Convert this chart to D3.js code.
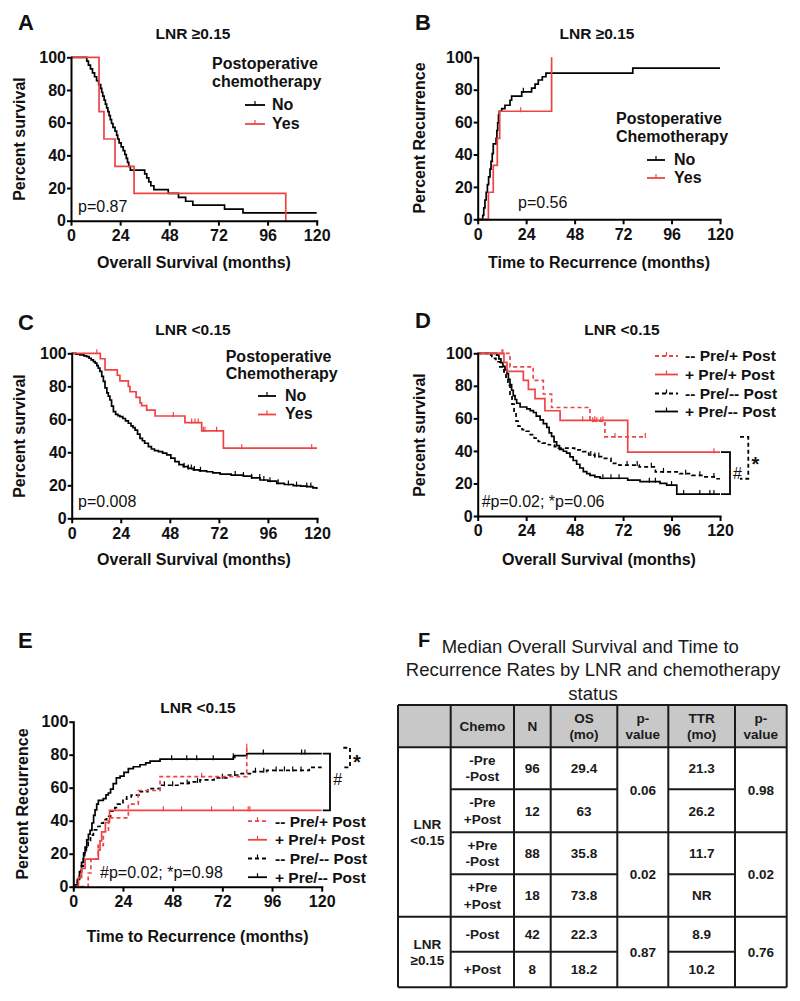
<!DOCTYPE html>
<html><head><meta charset="utf-8">
<script src="https://cdn.jsdelivr.net/npm/d3@7"></script>
<style>
body{margin:0;background:#fff;}
svg text{font-family:"Liberation Sans",Arial,Helvetica,sans-serif;}
</style></head><body>
<svg id="fig" width="800" height="1001"></svg>
<script>
// ---------------- DATA ----------------
const xTicks = [0, 24, 48, 72, 96, 120];
const yTicks = [0, 20, 40, 60, 80, 100];

// Panel A: LNR >=0.15, overall survival [month, %]
const aNo = [[0,100],[7.7,97.6],[8.5,95.2],[9.5,92.9],[10.5,90.5],[11.5,88.1],[12.5,85.7],[13.5,83.3],[14.5,81.0],[15,78.6],[15.5,76.2],[16.2,73.8],[16.8,71.4],[17.4,69.0],[18,66.7],[18.6,64.3],[19.2,61.9],[19.8,59.5],[20.5,57.1],[21.5,54.8],[22.3,52.4],[22.8,50.0],[23.5,47.6],[24.5,45.2],[25.5,42.9],[26.3,40.5],[27,38.1],[27.6,35.7],[28.2,33.3],[29,31.0],[36,28.6],[37,26.2],[38,23.8],[39,21.4],[40.5,19.0],[47.5,16.7],[52.5,14.3],[56,11.9],[59.5,9.5],[75,7.1],[84,4.8],[120,4.8]];
const aYes = [[0,100],[13.7,66.7],[16.1,50],[21.5,33.3],[30.8,16.7],[104.9,0]];

// Panel B: LNR >=0.15, recurrence
const bNo = [[0,0],[2.5,2.4],[3,7.1],[3.6,11.9],[4.2,16.7],[4.8,21.4],[5.4,26.2],[6.1,31],[6.6,35.7],[7.2,40.5],[7.7,46.6],[9.1,50],[9.5,54.8],[9.9,59.5],[10.3,64.3],[10.7,66.7],[11.9,68.3],[13.5,70.4],[16,73.5],[16.8,76],[21.8,78.7],[26.7,81],[28.4,83.5],[30,86],[32,88],[33.8,90.2],[76.8,93.3],[120,93.3]];
const bNoCens = [22.6];
const bYes = [[0,0],[5.3,16.7],[7.7,33.3],[9.7,50],[10.9,66.7],[36.6,100]];
const bYesCens = [21.3];

// Panel C: LNR <0.15, overall survival
const cNo = [[0,100],[2,99.5],[4,99],[6,98.5],[7.3,98],[8.5,97],[9.5,96],[10.6,95],[11.5,94],[12.3,92.5],[13,91],[13.8,89],[14.7,86],[15.5,83],[16.3,79],[17.2,76],[17.9,74],[18.7,71.7],[19.5,68],[20.4,64.6],[21.5,63],[22.6,62.2],[23.6,61.6],[25,60.5],[26.3,59],[27.7,57.6],[29,56],[30,55],[31,53.5],[32.2,51],[33.4,48.5],[34.6,47],[35.7,45.5],[37.5,43.4],[39,42],[40.5,41],[42.4,40.4],[44.5,39.5],[46.5,38.4],[48.5,36.5],[50.5,34.3],[52.5,32.5],[54.6,31.3],[57,30.2],[59.5,29.3],[62.5,28.8],[66,28.2],[69,27.5],[72.6,26.8],[78,26.2],[84,25.6],[88,24.5],[92.1,23.2],[96,22.5],[100.3,21.2],[104,20.5],[108.4,19.8],[112,19.5],[115,19.2],[118,18.5],[119.9,17.8]];
const cNoCens = [55,57,58.5,60,63,80,84,88,92,94,97,101,106,110,115,117];
const cYes = [[0,100],[14,96.7],[16.3,90],[22.3,86.7],[23.6,83.3],[27.7,80],[28.5,76.7],[31.5,73.3],[33.4,70],[34.2,68.3],[36.7,65.6],[40.8,62],[55.4,58],[63.6,53],[74.2,42.5],[120,42.5]];
const cYesCens = [12.3,49.7,58.7,60.3,61.9,64.4,65.2,70.9,83.2,117.4];

// Panel D: LNR <0.15, overall survival by pre/post chemo
const dPreNoPostYes = [[0,100],[16,91.7],[27.5,83.3],[32.5,75],[36.6,66.7],[55.6,58.3],[63,48.6],[83,48.6]];
const dPreNoPostYesCens = [12.5,57,59,61,68,83];
const dPreYesPostYes = [[0,100],[13,94.4],[14.5,88.9],[22.6,83.3],[25.1,77.8],[28.4,72.2],[33.3,64.7],[40.8,58.8],[74.3,39.2],[120,39.2]];
const dPreYesPostYesCens = [12,52,58,62,117];
const dPreNoPostNo = [[0,100],[5,98.9],[7,96.9],[9,94.8],[11,91.7],[13,88.5],[14,85.4],[15,80.2],[16,74],[17,68.8],[18,63.5],[19,58.3],[20,55.2],[22,53.1],[24,52.1],[26,50],[28,47.9],[30,45.8],[32,44.8],[35,43.8],[38,42.7],[40,41.7],[48,40.6],[52,39.6],[55,37.5],[58,36.5],[62,35.4],[66,32.3],[70,31.3],[80,30.2],[88,27.1],[100,26],[106,25],[112,24],[118,22.9],[120,22.9]];
const dPreNoPostNoCens = [56,58,60,74,79,86,92,103,110,117];
const dPreYesPostNo = [[0,100],[9.4,98.9],[10.5,96.6],[11.5,94.3],[12.5,92],[13.5,89.8],[14.5,87.5],[15.2,84],[16,80.7],[16.8,77.3],[17.6,74],[18.5,71.6],[19.3,69.3],[21,67],[24.3,65.9],[26,64.8],[27.6,63.6],[29,61.4],[30.9,59.1],[32.5,56.8],[34.2,54.5],[35.4,51.1],[36.6,48.9],[37.8,45.5],[39.1,43.2],[40.5,40.9],[42.4,39.8],[44,38.6],[45.7,36.4],[47.3,34.1],[49,31.8],[50.6,29.5],[52.3,27.3],[54,26.1],[55.6,25],[58,24],[60.6,23.2],[74.3,22.1],[80.4,21.1],[90.3,20.1],[93.6,19],[98.6,13.5],[120,13.5]];
const dPreYesPostNoCens = [62,66,70,85,88,96,102,110,115,117];

// Panel E: LNR <0.15, recurrence by pre/post chemo
const ePreNoPostYes = [[0,0],[7.2,8.3],[8.5,16.7],[12,25],[14.5,33.3],[17,41.7],[26.6,50],[31.4,58.3],[41.9,66.7],[83.8,84.2]];
const ePreNoPostYesCens = [62,83.8];
const ePreYesPostYes = [[0,0],[2.5,5.6],[4,11.1],[5.7,16.7],[12.1,22.2],[12.9,27.8],[13.7,33.3],[15.5,38.9],[17.5,46.3],[120,46.3]];
const ePreYesPostYesCens = [43.5,52.3,66.8,77.3,84.5,85.3];
const ePreNoPostNo = [[0,0],[1,1],[2,4.2],[3,8.3],[3.8,12.5],[4.8,18.8],[5.5,21.9],[6.3,25],[7.2,28.1],[8.3,31.3],[9.7,34.4],[11.3,36.5],[12.9,38.5],[14.5,40.6],[16.1,42.7],[18,45.8],[20.1,47.9],[21.3,50],[22.6,51],[24,53.1],[25.8,54.5],[28,55.5],[32.2,57.6],[36,59.4],[41.9,61.5],[51.5,62.6],[56,63.5],[61.2,64.7],[68,66],[74.1,67.7],[80,68.5],[87,69.7],[93.4,70.5],[114,72.3],[120,72.3]];
const ePreNoPostNoCens = [44,48,55,60,72,78,88,92,98,102,106,110];
const ePreYesPostNo = [[0,0],[1,1.1],[2,4.5],[3,9.1],[4,14.8],[5,20.5],[5.7,24],[6.5,28.4],[7.3,31.8],[8.1,34.1],[9,38.6],[9.8,43.2],[10.5,46.6],[11.3,50],[12.1,52.3],[14.5,53.4],[15.8,55.7],[16.9,56.8],[18,59.1],[19.3,62.5],[20.8,65.9],[22.6,67],[24.5,69.3],[26.6,71.6],[29,72.7],[32.2,73.9],[35,75],[37.1,76.1],[41.9,77.3],[77.3,78.4],[78,79.5],[83.8,80.7],[120,80.7]];
const ePreYesPostNoCens = [47.5,54.8,59.6,67.6,77.3,91.8,110.3,111.9];

// Panel F: table
const tblHeader = ["", "Chemo", "N", "OS\n(mo)", "p-\nvalue", "TTR\n(mo)", "p-\nvalue"];
const tblGroups = ["LNR\n<0.15", "LNR\n\u22650.15"];
const tblChemo = ["-Pre\n-Post", "-Pre\n+Post", "+Pre\n-Post", "+Pre\n+Post", "-Post", "+Post"];
const tblN = ["96", "12", "88", "18", "42", "8"];
const tblOS = ["29.4", "63", "35.8", "73.8", "22.3", "18.2"];
const tblTTR = ["21.3", "26.2", "11.7", "NR", "8.9", "10.2"];
const tblPOS = ["0.06", "0.02", "0.87"];
const tblPTTR = ["0.98", "0.02", "0.76"];

// ---------------- DRAWING ----------------
const svg = d3.select('#fig');
const RED = '#f04444';
const INK = '#111';

function txt(g, x, y, s, o = {}) {
  return g.append('text').attr('x', x).attr('y', y).text(s)
    .attr('font-size', o.size || 16).attr('font-weight', o.weight || 'bold')
    .attr('text-anchor', o.anchor || 'start').attr('fill', o.fill || INK);
}
function valueAt(data, t) {
  let v = data[0][1];
  for (const d of data) { if (d[0] <= t) v = d[1]; else break; }
  return v;
}
function legLine(g, x1, x2, y, color, dash) {
  g.append('line').attr('x1', x1).attr('x2', x2).attr('y1', y).attr('y2', y)
    .attr('stroke', color).attr('stroke-width', 1.8).attr('stroke-dasharray', dash ? '4,3' : null);
  const m = (x1 + x2) / 2;
  g.append('line').attr('x1', m).attr('x2', m).attr('y1', y).attr('y2', y - 4)
    .attr('stroke', color).attr('stroke-width', 1.2);
}

function panel(p) {
  const g = svg.append('g');
  const xs = d3.scaleLinear().domain([0, 120]).range([p.x0, p.x1]);
  const ys = d3.scaleLinear().domain([0, 100]).range([p.yB, p.yT]);
  const line = d3.line().x(d => xs(d[0])).y(d => ys(d[1])).curve(d3.curveStepAfter);
  p.series.forEach(s => {
    g.append('path').datum(s.data).attr('d', line).attr('fill', 'none')
      .attr('stroke', s.color).attr('stroke-width', 1.7)
      .attr('stroke-dasharray', s.dash ? '4,3' : null);
    (s.cens || []).forEach(t => {
      const v = valueAt(s.data, t);
      g.append('line').attr('x1', xs(t)).attr('x2', xs(t)).attr('y1', ys(v) + 1).attr('y2', ys(v) - 4)
        .attr('stroke', s.color).attr('stroke-width', 1.2);
    });
  });
  const ya = g.append('g').attr('transform', `translate(${p.x0},0)`)
    .call(d3.axisLeft(ys).tickValues(yTicks).tickSize(4).tickSizeOuter(0).tickPadding(1));
  const xa = g.append('g').attr('transform', `translate(0,${p.yB})`)
    .call(d3.axisBottom(xs).tickValues(xTicks).tickSize(5).tickSizeOuter(0).tickPadding(4));
  [ya, xa].forEach(a => {
    a.select('.domain').attr('stroke', '#000').attr('stroke-width', 2).attr('stroke-linecap', 'square');
    a.selectAll('.tick line').attr('stroke', '#000').attr('stroke-width', 2);
    a.selectAll('text').attr('font-size', 16).attr('font-weight', 'bold')
      .attr('font-family', '"Liberation Sans",Arial,sans-serif').attr('fill', INK);
  });
  // letter, title, axis titles
  txt(g, p.letter[0], p.letter[1], p.id, { size: 22 });
  txt(g, p.title[0], p.title[1], p.title[2], { size: 15.5, anchor: 'middle' });
  txt(g, p.xlab[0], p.xlab[1], p.xlab[2], { size: 16, anchor: 'middle' });
  g.append('text').attr('transform', `translate(${p.ylab[0]},${p.ylab[1]}) rotate(-90)`)
    .attr('text-anchor', 'middle').attr('font-size', 16).attr('font-weight', 'bold')
    .attr('fill', INK).text(p.ylab[2]);
  txt(g, p.ptext[0], p.ptext[1], p.ptext[2], { size: 16, weight: 'normal' });
  return { g, xs, ys };
}

// A
const A = panel({
  id: 'A', x0: 71, x1: 316.7, yT: 57.3, yB: 220.7,
  letter: [18, 30], title: [193, 39, 'LNR \u22650.15'],
  xlab: [194, 268, 'Overall Survival (months)'], ylab: [25, 139, 'Percent survival'],
  ptext: [78, 212, 'p=0.87'],
  series: [{ data: aNo, color: '#000' }, { data: aYes, color: RED }]
});
txt(A.g, 212, 69, 'Postoperative'); txt(A.g, 212, 87, 'chemotherapy');
legLine(A.g, 245, 265, 105, '#000'); txt(A.g, 272, 110, 'No');
legLine(A.g, 245, 265, 124, RED); txt(A.g, 272, 129, 'Yes');

// B
const B = panel({
  id: 'B', x0: 477.7, x1: 720, yT: 57.3, yB: 219.3,
  letter: [415, 30], title: [597, 39, 'LNR \u22650.15'],
  xlab: [599, 268, 'Time to Recurrence (months)'], ylab: [425, 138, 'Percent Recurrence'],
  ptext: [518, 208, 'p=0.56'],
  series: [{ data: bNo, color: '#000', cens: bNoCens }, { data: bYes, color: RED, cens: bYesCens }]
});
txt(B.g, 616, 124, 'Postoperative'); txt(B.g, 616, 142, 'Chemotherapy');
legLine(B.g, 647, 665, 160, '#000'); txt(B.g, 674, 165, 'No');
legLine(B.g, 647, 665, 178, RED); txt(B.g, 674, 183, 'Yes');

// C
const C = panel({
  id: 'C', x0: 71.7, x1: 317, yT: 353.3, yB: 518.3,
  letter: [18, 330], title: [193, 335, 'LNR <0.15'],
  xlab: [194, 565, 'Overall Survival (months)'], ylab: [25, 436, 'Percent survival'],
  ptext: [78, 507, 'p=0.008'],
  series: [{ data: cNo, color: '#000', cens: cNoCens }, { data: cYes, color: RED, cens: cYesCens }]
});
txt(C.g, 225.7, 362, 'Postoperative'); txt(C.g, 225.7, 379, 'Chemotherapy');
legLine(C.g, 258, 276, 396, '#000'); txt(C.g, 285, 401, 'No');
legLine(C.g, 258, 276, 414.5, RED); txt(C.g, 285, 419, 'Yes');

// D
const D = panel({
  id: 'D', x0: 477.7, x1: 720, yT: 353.3, yB: 516,
  letter: [415, 328], title: [622, 335, 'LNR <0.15'],
  xlab: [599, 565, 'Overall Survival (months)'], ylab: [425, 435, 'Percent survival'],
  ptext: [481.7, 507, '#p=0.02; *p=0.06'],
  series: [
    { data: dPreNoPostNo, color: '#000', dash: true, cens: dPreNoPostNoCens },
    { data: dPreYesPostNo, color: '#000', cens: dPreYesPostNoCens },
    { data: dPreNoPostYes, color: RED, dash: true, cens: dPreNoPostYesCens },
    { data: dPreYesPostYes, color: RED, cens: dPreYesPostYesCens }
  ]
});
const legLabels = ['-- Pre/+ Post', '+ Pre/+ Post', '-- Pre/-- Post', '+ Pre/-- Post'];
const legStyles = [[RED, true], [RED, false], ['#000', true], ['#000', false]];
[361, 379.5, 398.5, 416.5].forEach((y, i) => {
  legLine(D.g, 655, 678, y - 5, legStyles[i][0], legStyles[i][1]);
  txt(D.g, 685, y, legLabels[i], { size: 15.5 });
});
function bracket(P, x1, x2, v1, v2, dash) {
  P.g.append('path')
    .attr('d', `M${x1},${P.ys(v1)}H${x2}V${P.ys(v2)}H${x1}`)
    .attr('fill', 'none').attr('stroke', '#000').attr('stroke-width', 1.8)
    .attr('stroke-dasharray', dash ? '4,3' : null);
}
const last = a => a[a.length - 1][1];
bracket(D, 721, 730, last(dPreYesPostYes), last(dPreYesPostNo), false);
bracket(D, 740, 748.3, last(dPreNoPostYes), last(dPreNoPostNo), true);
txt(D.g, 733, 478.5, '#', { size: 16, weight: 'normal' });
txt(D.g, 751.5, 471, '*', { size: 20 });

// E
const E = panel({
  id: 'E', x0: 73.3, x1: 321.7, yT: 721.7, yB: 886.7,
  letter: [18, 648], title: [198, 713, 'LNR <0.15'],
  xlab: [197.5, 941.5, 'Time to Recurrence (months)'], ylab: [28.3, 804, 'Percent Recurrence'],
  ptext: [100, 878.3, '#p=0.02; *p=0.98'],
  series: [
    { data: ePreNoPostNo, color: '#000', dash: true, cens: ePreNoPostNoCens },
    { data: ePreYesPostNo, color: '#000', cens: ePreYesPostNoCens },
    { data: ePreNoPostYes, color: RED, dash: true, cens: ePreNoPostYesCens },
    { data: ePreYesPostYes, color: RED, cens: ePreYesPostYesCens }
  ]
});
[826.7, 845.3, 864, 882.7].forEach((y, i) => {
  legLine(E.g, 248, 267, y - 5.5, legStyles[i][0], legStyles[i][1]);
  txt(E.g, 275, y, legLabels[i], { size: 15.5 });
});
bracket(E, 322.7, 330, last(ePreYesPostNo), last(ePreYesPostYes), false);
bracket(E, 343.3, 350, last(ePreNoPostYes), last(ePreNoPostNo), true);
txt(E.g, 333.3, 785, '#', { size: 16, weight: 'normal' });
txt(E.g, 353, 768.5, '*', { size: 20 });

// F: table
const F = svg.append('g');
txt(F, 418, 647, 'F', { size: 20 });
txt(F, 441.7, 653, 'Median Overall Survival and Time to', { size: 18.5, weight: 'normal', fill: '#1a1a1a' });
txt(F, 593, 676, 'Recurrence Rates by LNR and chemotherapy', { size: 18.5, weight: 'normal', anchor: 'middle', fill: '#1a1a1a' });
txt(F, 593, 700, 'status', { size: 18.5, weight: 'normal', anchor: 'middle', fill: '#1a1a1a' });

const cols = [398, 450.7, 514, 550.7, 617.3, 668.3, 735, 786.7];
const rows = [705, 747.3, 789.3, 832.3, 874.3, 916.7, 951.7, 987.3];
const cx = i => (cols[i] + cols[i + 1]) / 2;
function cellText(x, yTop, yBot, s) {
  const lines = s.split('\n');
  const yc = (yTop + yBot) / 2;
  lines.forEach((l, k) => {
    const off = (k - (lines.length - 1) / 2) * 16.5;
    txt(F, x, yc + off + 4.8, l, { size: 13.5, anchor: 'middle', fill: '#1a1a1a' });
  });
}
F.append('rect').attr('x', cols[0]).attr('y', rows[0]).attr('width', cols[7] - cols[0])
  .attr('height', rows[1] - rows[0]).attr('fill', '#c8c8c8');
const stroke = sel => sel.attr('stroke', '#1a1a1a').attr('stroke-width', 2);
cols.forEach(x => stroke(F.append('line').attr('x1', x).attr('x2', x).attr('y1', rows[0]).attr('y2', rows[7])));
[rows[0], rows[1], rows[5], rows[7]].forEach(y =>
  stroke(F.append('line').attr('x1', cols[0]).attr('x2', cols[7]).attr('y1', y).attr('y2', y)));
stroke(F.append('line').attr('x1', cols[1]).attr('x2', cols[7]).attr('y1', rows[3]).attr('y2', rows[3]));
[rows[2], rows[4], rows[6]].forEach(y => {
  stroke(F.append('line').attr('x1', cols[1]).attr('x2', cols[4]).attr('y1', y).attr('y2', y));
  stroke(F.append('line').attr('x1', cols[5]).attr('x2', cols[6]).attr('y1', y).attr('y2', y));
});
tblHeader.forEach((h, i) => { if (h) cellText(cx(i), rows[0], rows[1], h); });
cellText(cx(0) + 3, rows[1], rows[5], tblGroups[0]);
cellText(cx(0) + 3, rows[5], rows[7], tblGroups[1]);
tblChemo.forEach((c, r) => {
  cellText(cx(1), rows[r + 1], rows[r + 2], c);
  cellText(cx(2), rows[r + 1], rows[r + 2], tblN[r]);
  cellText(cx(3), rows[r + 1], rows[r + 2], tblOS[r]);
  cellText(cx(5), rows[r + 1], rows[r + 2], tblTTR[r]);
});
tblPOS.forEach((p, k) => cellText(cx(4), rows[1 + 2 * k], rows[3 + 2 * k], p));
tblPTTR.forEach((p, k) => cellText(cx(6), rows[1 + 2 * k], rows[3 + 2 * k], p));
</script></body></html>
